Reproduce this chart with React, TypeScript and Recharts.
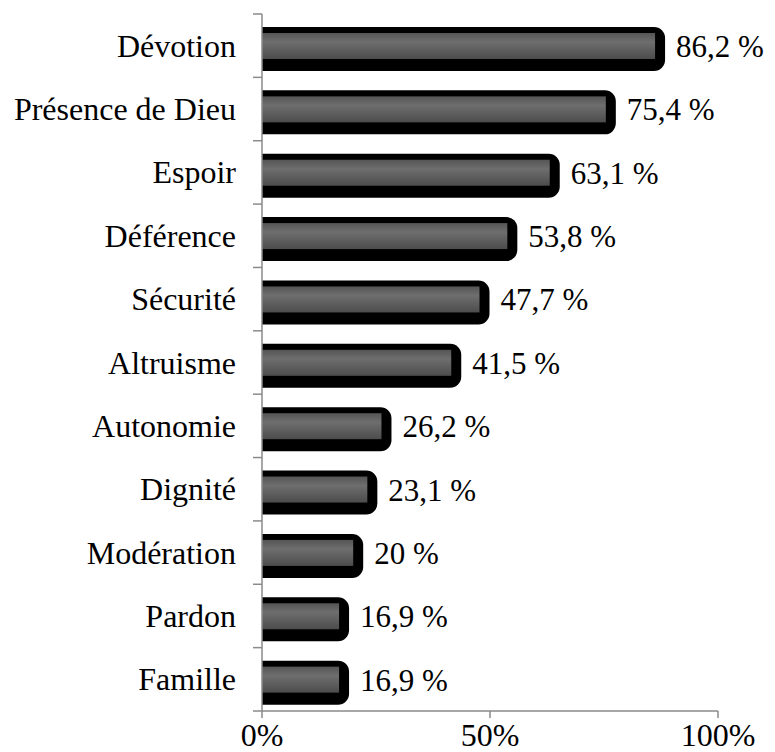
import { Bar, BarChart, LabelList, XAxis, YAxis } from "recharts";

const categories = [
  "Dévotion",
  "Présence de Dieu",
  "Espoir",
  "Déférence",
  "Sécurité",
  "Altruisme",
  "Autonomie",
  "Dignité",
  "Modération",
  "Pardon",
  "Famille",
];
const values = [86.2, 75.4, 63.1, 53.8, 47.7, 41.5, 26.2, 23.1, 20, 16.9, 16.9];
const xTicks = [0, 50, 100];

const data = categories.map((name, i) => ({ name, value: values[i] }));

const W = 775;
const H = 752;
const margin = { top: 14, right: 57, bottom: 0, left: 0 };
const yAxisWidth = 262;
const xAxisHeight = 41;
const step = (H - margin.top - margin.bottom - xAxisHeight) / categories.length;
const font = '"Liberation Serif", "Times New Roman", serif';
const axisColor = "#8a8a8a";

function ShadowBar(props: any) {
  const { x, y, width, height } = props;
  const r = 11;
  const top = y - 6;
  const bottom = y + height + 12;
  const right = x + width + 10;
  const d = `M${x},${top} H${right - r} A${r},${r} 0 0 1 ${right},${top + r} V${bottom - r} A${r},${r} 0 0 1 ${right - r},${bottom} H${x} Z`;
  return (
    <g>
      <path d={d} fill="#000" />
      <rect x={x} y={y} width={width} height={height} fill="url(#barGrad)" />
    </g>
  );
}

function CatTick(props: any) {
  const { x, y, payload, index } = props;
  return (
    <g>
      <line x1={x - 9} x2={x} y1={y - step / 2} y2={y - step / 2} stroke={axisColor} strokeWidth={1.5} />
      {index === categories.length - 1 && (
        <line x1={x - 9} x2={x} y1={y + step / 2} y2={y + step / 2} stroke={axisColor} strokeWidth={1.5} />
      )}
      <text
        x={x - 26}
        y={y}
        textAnchor="end"
        dominantBaseline="central"
        fontSize={32}
        fontFamily={font}
        fill="#000"
      >
        {payload.value}
      </text>
    </g>
  );
}

export default function App() {
  return (
    <div style={{ position: "absolute", left: 0, top: 0, background: "#fff" }}>
      <BarChart width={W} height={H} data={data} layout="vertical" margin={margin} barSize={26}>
        <defs>
          <linearGradient id="barGrad" x1="0" y1="0" x2="0" y2="1">
            <stop offset="0%" stopColor="#555555" />
            <stop offset="35%" stopColor="#6e6e6e" />
            <stop offset="100%" stopColor="#4c4c4c" />
          </linearGradient>
        </defs>
        <XAxis
          type="number"
          domain={[0, 100]}
          ticks={xTicks}
          tickFormatter={(v: number) => `${v}%`}
          height={xAxisHeight}
          tickSize={7}
          tickMargin={5}
          axisLine={{ stroke: axisColor, strokeWidth: 1.5 }}
          tickLine={{ stroke: axisColor, strokeWidth: 1.5 }}
          tick={{ fill: "#000", fontSize: 32, fontFamily: font }}
          interval={0}
        />
        <Bar dataKey="value" shape={ShadowBar} isAnimationActive={false}>
          <LabelList
            dataKey="value"
            position="right"
            offset={21}
            formatter={(v: any) => `${String(v).replace(".", ",")} %`}
            style={{ fill: "#000", fontSize: 31, fontFamily: font }}
          />
        </Bar>
        <YAxis
          type="category"
          dataKey="name"
          width={yAxisWidth}
          tickSize={0}
          tickMargin={0}
          tickLine={false}
          axisLine={{ stroke: axisColor, strokeWidth: 1.5 }}
          tick={CatTick}
          interval={0}
        />
      </BarChart>
    </div>
  );
}
